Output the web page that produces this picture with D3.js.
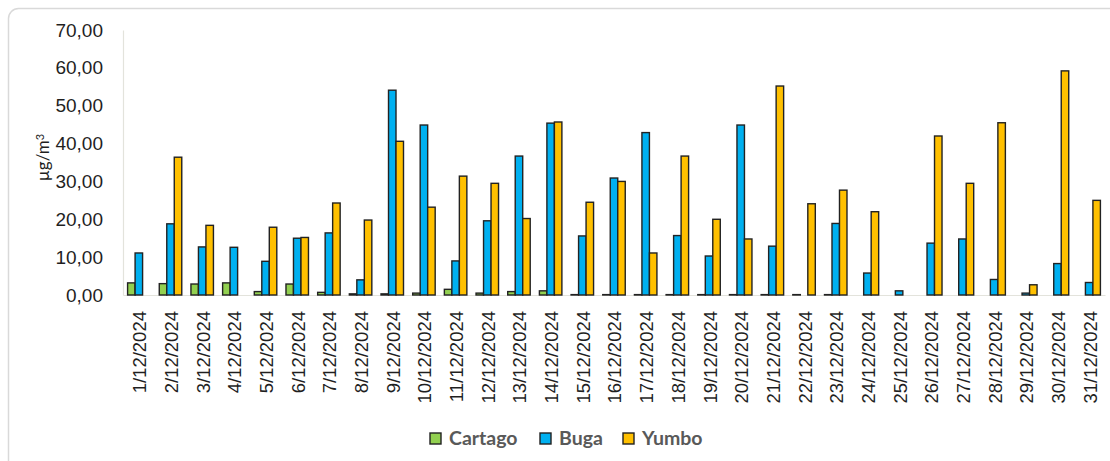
<!DOCTYPE html>
<html>
<head>
<meta charset="utf-8">
<script src="https://cdn.jsdelivr.net/npm/d3@7"></script>
<style>
  body { margin: 0; background: #fff; }
  svg { display: block; font-family: Lato, "Open Sans", sans-serif; }
</style>
</head>
<body>
<div id="chart"><svg width="1110" height="461"></svg></div>
<script>
// data
const dates = d3.range(1, 32).map(d => d + "/12/2024");
const cartago = [3.2, 3.0, 2.9, 3.2, 0.9, 2.9, 0.7, 0.3, 0.3, 0.5, 1.5, 0.5, 0.9, 1.1, 0.1, 0.1,
                 0.1, 0.1, 0.1, 0.1, 0.1, 0.1, 0.1, null, null, null, null, null, null, null, null];
const buga = [11.1, 18.8, 12.7, 12.6, 8.9, 15.0, 16.4, 4.0, 54.1, 44.9, 9.0, 19.6, 36.7, 45.4, 15.6, 30.9,
              42.9, 15.7, 10.3, 44.9, 12.9, null, 18.9, 5.8, 1.1, 13.7, 14.8, 4.1, 0.5, 8.3, 3.3];
const yumbo = [null, 36.4, 18.4, null, 17.9, 15.2, 24.3, 19.8, 40.6, 23.2, 31.4, 29.5, 20.2, 45.7, 24.5, 30.0,
               11.1, 36.7, 20.0, 14.8, 55.2, 24.1, 27.7, 22.0, null, 42.0, 29.5, 45.5, 2.7, 59.2, 25.0];
const seriesNames = ["Cartago", "Buga", "Yumbo"];
const yTicks = [0, 10, 20, 30, 40, 50, 60, 70];

const colors = {Cartago: "#92D050", Buga: "#00B0F0", Yumbo: "#FFC000"};
const values = {Cartago: cartago, Buga: buga, Yumbo: yumbo};

const svg = d3.select("#chart svg");
const margin = {top: 30, left: 123, right: 5, bottom: 166};
const width = 1110, height = 461;

// outer chart frame (rounded, runs off the right/bottom edges)
svg.append("rect")
    .attr("x", 8.5).attr("y", 8.5)
    .attr("width", 1120).attr("height", 470)
    .attr("rx", 10)
    .attr("fill", "none")
    .attr("stroke", "#d9d9d9")
    .attr("stroke-width", 1.5);

/***** scales *****/
const x0 = d3.scaleBand()
    .domain(dates)
    .range([margin.left, width - margin.right])
    .paddingInner(0.29)
    .paddingOuter(0.145);

const x1 = d3.scaleBand()
    .domain(seriesNames)
    .range([0, x0.bandwidth()]);

const y = d3.scaleLinear()
    .domain([0, 70])
    .range([height - margin.bottom, margin.top]);

/***** axes *****/
const yAxis = d3.axisLeft(y)
    .tickValues(yTicks)
    .tickSize(0)
    .tickPadding(20)
    .tickFormat(d => d3.format(".2f")(d).replace(".", ","));

svg.append("g")
    .attr("class", "yAxis")
    .attr("transform", `translate(${margin.left},0)`)
    .call(yAxis)
    .call(g => g.select(".domain").attr("stroke", "#e3e3dc").attr("stroke-width", 1.2))
    .selectAll("text")
    .style("font-size", "19px")
    .style("fill", "#1f1f1f");

const xAxis = d3.axisBottom(x0)
    .tickSize(0)
    .tickPadding(0);

svg.append("g")
    .attr("class", "xAxis")
    .attr("transform", `translate(0,${y(0)})`)
    .call(xAxis)
    .call(g => g.select(".domain").attr("stroke", "#e3e3dc").attr("stroke-width", 1.2))
    .selectAll("text")
    .attr("transform", "translate(1,16) rotate(-90)")
    .attr("x", 0).attr("y", 0).attr("dy", "0.35em")
    .style("text-anchor", "end")
    .style("font-size", "18.5px")
    .style("fill", "#1f1f1f");

// y axis title
svg.append("text")
    .attr("transform", `translate(49,${(y(0) + y(70)) / 2 - 5}) rotate(-90)`)
    .attr("text-anchor", "middle")
    .style("font-size", "17px")
    .style("fill", "#1f1f1f")
    .call(t => {
        t.append("tspan").text("µg/m");
        t.append("tspan").attr("dy", "-0.45em").style("font-size", "11px").text("3");
    });

/***** bars *****/
const groups = svg.append("g").selectAll("g")
    .data(dates)
    .join("g")
    .attr("transform", d => `translate(${x0(d)},0)`);

groups.selectAll("rect")
    .data((d, i) => seriesNames
        .map(s => ({key: s, value: values[s][i]}))
        .filter(e => e.value !== null))
    .join("rect")
    .attr("x", d => x1(d.key))
    .attr("y", d => y(d.value))
    .attr("width", x1.bandwidth())
    .attr("height", d => y(0) - y(d.value))
    .attr("fill", d => colors[d.key])
    .attr("stroke", "#222")
    .attr("stroke-width", 1.4);

/***** legend *****/
const legendX = [430, 540, 623];
const legend = svg.append("g").selectAll("g")
    .data(seriesNames)
    .join("g")
    .attr("transform", (d, i) => `translate(${legendX[i]},433)`);

legend.append("rect")
    .attr("width", 11).attr("height", 11)
    .attr("fill", d => colors[d])
    .attr("stroke", "#222")
    .attr("stroke-width", 1.4);

legend.append("text")
    .attr("x", 19).attr("y", 5.5).attr("dy", "0.35em")
    .style("font-size", "19.5px")
    .style("font-weight", "bold")
    .style("fill", "#595959")
    .text(d => d);
</script>
</body>
</html>
